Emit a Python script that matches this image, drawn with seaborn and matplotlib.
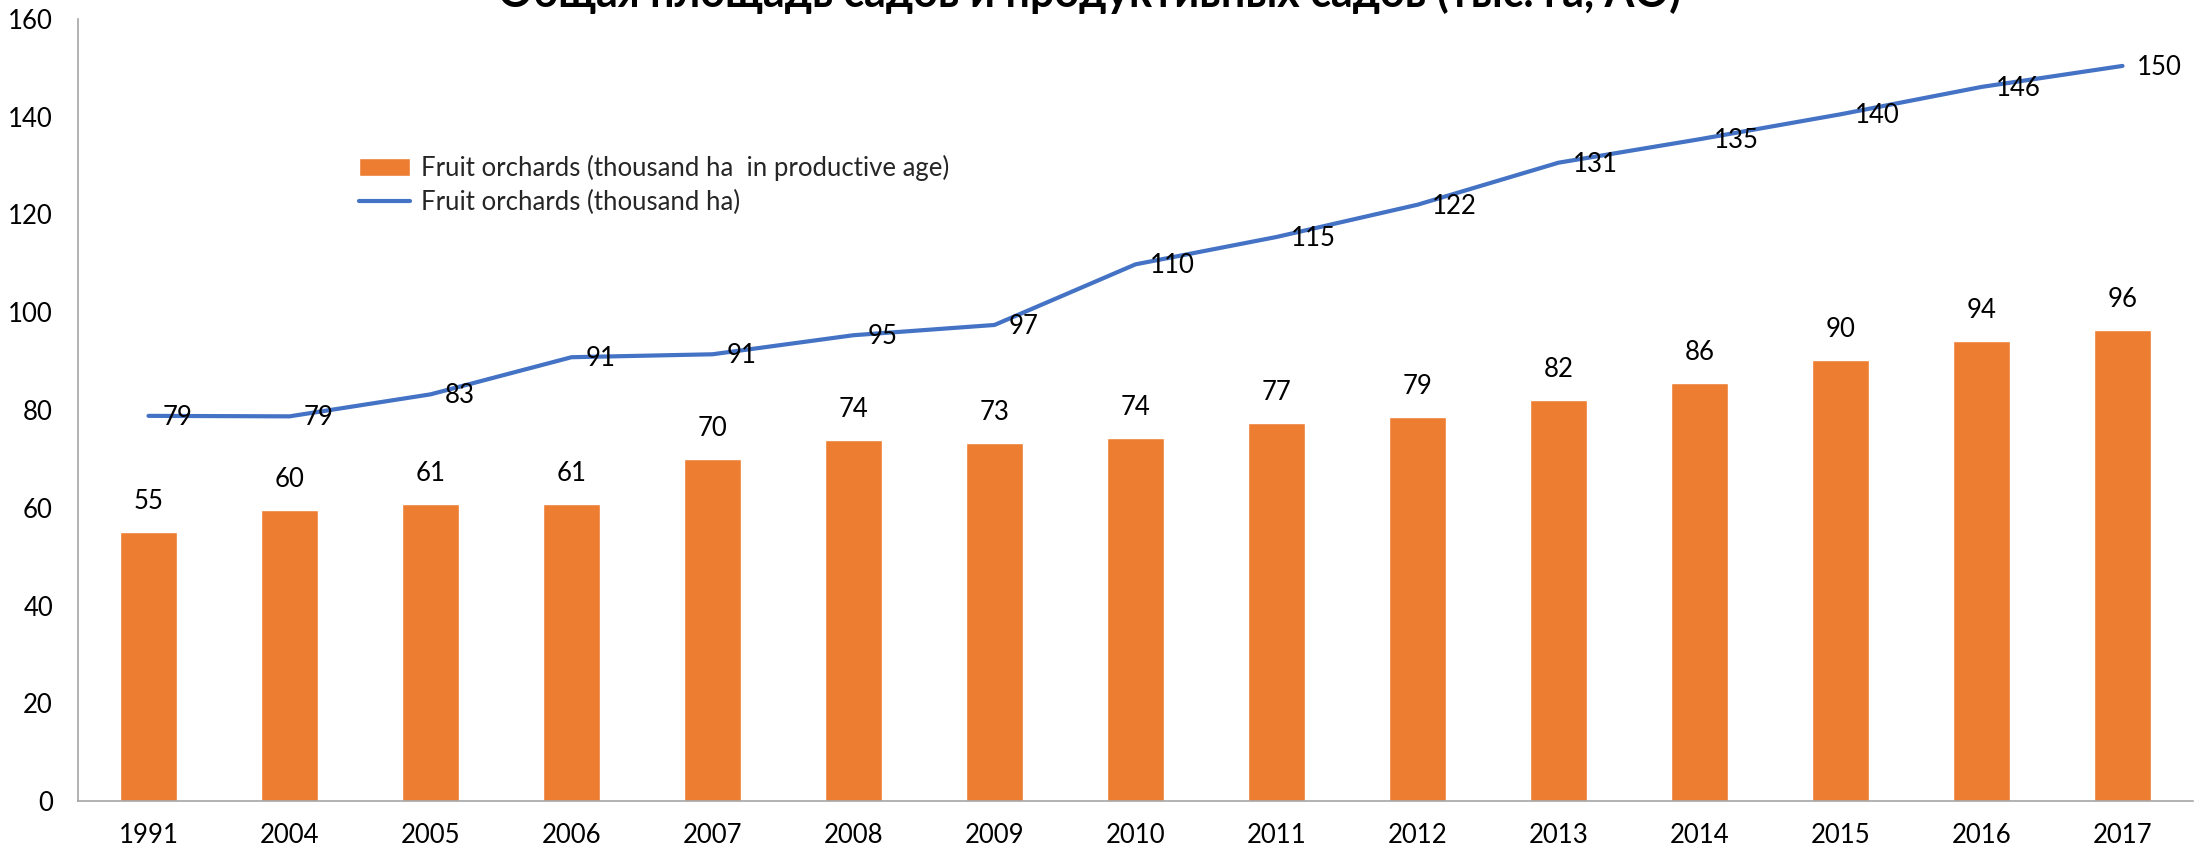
import numpy as np
import pandas as pd
import matplotlib
matplotlib.use("Agg")
import matplotlib.pyplot as plt
import seaborn as sns

years = ["1991", "2004", "2005", "2006", "2007", "2008", "2009", "2010",
         "2011", "2012", "2013", "2014", "2015", "2016", "2017"]
productive = [55.0, 59.5, 60.8, 60.8, 70.0, 73.8, 73.3, 74.2, 77.4, 78.6,
              82.1, 85.6, 90.3, 94.2, 96.3]
total = [78.8, 78.7, 83.2, 90.8, 91.4, 95.3, 97.4, 109.8, 115.4, 122.0,
         130.6, 135.4, 140.5, 146.1, 150.4]
bar_label = "Fruit orchards (thousand ha  in productive age)"
line_label = "Fruit orchards (thousand ha)"
title = "Общая площадь садов и продуктивных садов (тыс. га, АО)"
yticks = [0, 20, 40, 60, 80, 100, 120, 140, 160]

ORANGE = "#ED7D31"
BLUE = "#4472C4"

sns.set_theme(style="white")
plt.rcParams["font.family"] = ["Lato", "DejaVu Sans"]

df = pd.DataFrame({"year": years, "productive": productive, "total": total,
                   "pos": np.arange(len(years))})

fig = plt.figure(figsize=(22.08, 8.48), dpi=100)
ax = fig.add_axes([78 / 2208, 47 / 848, 2115 / 2208, 782 / 848])

sns.barplot(data=df, x="year", y="productive", color=ORANGE, width=0.4,
            saturation=1, ax=ax, label=bar_label)
sns.lineplot(data=df, x="pos", y="total", color=BLUE, linewidth=3,
             ax=ax, label=line_label, sort=False)

for i, v in enumerate(productive):
    ax.annotate(f"{v:.0f}", (i, v), xytext=(0, 13), textcoords="offset points",
                ha="center", va="bottom", fontsize=18.5, color="#000000")
for i, v in enumerate(total):
    ax.annotate(f"{v:.0f}", (i, v), xytext=(10, -1), textcoords="offset points",
                ha="left", va="center", fontsize=18.5, color="#000000")

ax.set_xlim(-0.5, len(years) - 0.5)
ax.set_ylim(0, 160)
ax.set_yticks(yticks)
ax.set_xlabel("")
ax.set_ylabel("")
ax.tick_params(axis="both", length=0, labelsize=18.5, colors="#000000")
ax.tick_params(axis="x", pad=16)
ax.tick_params(axis="y", pad=18)

for side in ["top", "right"]:
    ax.spines[side].set_visible(False)
for side in ["left", "bottom"]:
    ax.spines[side].set_color("#a6a6a6")
    ax.spines[side].set_linewidth(1.2)

handles, labels = ax.get_legend_handles_labels()
order = [labels.index(bar_label), labels.index(line_label)]
ax.legend([handles[i] for i in order], [labels[i] for i in order],
          loc="upper left", bbox_to_anchor=(0.128, 0.84), frameon=False,
          fontsize=18.5, handlelength=2.0, handletextpad=0.4, labelspacing=0.35,
          borderaxespad=0)

fig.text(1090 / 2208, 1 - 7 / 848, title, ha="center", va="baseline",
         fontsize=31, fontweight="bold", color="#000000")

fig.savefig("out.png", dpi=100)
